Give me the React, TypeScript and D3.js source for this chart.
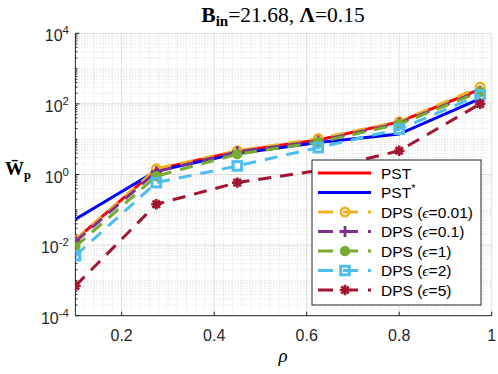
import React from "react";
import * as d3 from "d3";

const rho = [0.1, 0.275, 0.45, 0.625, 0.8, 0.975];
const pst = [0.014, 1.4, 4.6, 9.5, 31, 260];
const pstStar = [0.054, 1.26, 3.9, 8.1, 14, 140];
const dps001 = [0.014, 1.45, 4.7, 10.4, 31, 300];
const dps01 = [0.0125, 1.2, 4.4, 8.9, 28.5, 230];
const dps1 = [0.009, 0.9, 3.76, 8.2, 26.5, 220];
const dps2 = [0.005, 0.59, 1.75, 5.8, 19.2, 180];
const dps5 = [0.0007, 0.144, 0.59, 1.3, 4.7, 100];

const xTicks = [0.2, 0.4, 0.6, 0.8, 1];
const yTickExps = [-4, -2, 0, 2, 4];

type Series = {
  name: string;
  eps?: string;
  star?: boolean;
  values: number[];
  color: string;
  dashed: boolean;
  marker: string | null;
};

const series: Series[] = [
  { name: "PST", values: pst, color: "#ff0000", dashed: false, marker: null },
  { name: "PST", star: true, values: pstStar, color: "#0000ff", dashed: false, marker: null },
  { name: "DPS", eps: "0.01", values: dps001, color: "#EDB120", dashed: true, marker: "circle" },
  { name: "DPS", eps: "0.1", values: dps01, color: "#7E2F8E", dashed: true, marker: "plus" },
  { name: "DPS", eps: "1", values: dps1, color: "#77AC30", dashed: true, marker: "dot" },
  { name: "DPS", eps: "2", values: dps2, color: "#4DBEEE", dashed: true, marker: "square" },
  { name: "DPS", eps: "5", values: dps5, color: "#A2142F", dashed: true, marker: "asterisk" },
];

const W = 498;
const H = 374;
const left = 75.4;
const right = 491.7;
const top = 33.3;
const bottom = 315.7;

const x = d3.scaleLinear().domain([0.1, 1]).range([left, right]);
const y = d3.scaleLog().domain([1e-4, 1e4]).range([bottom, top]);

const sans = "'Liberation Sans', Arial, Helvetica, sans-serif";
const serif = "'Liberation Serif', 'Times New Roman', serif";
const axisColor = "#262626";
const DASH = "13 9";

function Marker({ type, cx, cy, color }: { type: string | null; cx: number; cy: number; color: string }) {
  if (!type) return null;
  if (type === "circle")
    return <circle cx={cx} cy={cy} r={4.2} fill="none" stroke={color} strokeWidth={2.6} />;
  if (type === "plus")
    return (
      <path
        d={`M${cx - 5.5},${cy}H${cx + 5.5}M${cx},${cy - 5.5}V${cy + 5.5}`}
        stroke={color}
        strokeWidth={2.8}
        fill="none"
      />
    );
  if (type === "dot") return <circle cx={cx} cy={cy} r={4.6} fill={color} stroke={color} strokeWidth={1.2} />;
  if (type === "square")
    return <rect x={cx - 4.3} y={cy - 4.3} width={8.6} height={8.6} fill="none" stroke={color} strokeWidth={3} />;
  if (type === "asterisk") {
    const r = 5.2;
    const d = r * 0.707;
    return (
      <path
        d={`M${cx - r},${cy}H${cx + r}M${cx},${cy - r}V${cy + r}M${cx - d},${cy - d}L${cx + d},${cy + d}M${cx - d},${cy + d}L${cx + d},${cy - d}`}
        stroke={color}
        strokeWidth={2.6}
        fill="none"
      />
    );
  }
  return null;
}

export default function App() {
  const line = d3
    .line<number>()
    .x((_, i) => x(rho[i]))
    .y((v) => y(v));

  const xMinor = d3.range(0.1, 1.0001, 0.02).filter((v) => !xTicks.some((t) => Math.abs(t - v) < 1e-6));
  const yMinor: number[] = [];
  for (let e = -4; e < 4; e++) {
    for (let k = 1; k <= 9; k++) {
      const v = k * Math.pow(10, e);
      if (k === 1 && e % 2 === 0) continue;
      yMinor.push(v);
    }
  }

  const legX = 312;
  const legY = 160;
  const legW = 169;
  const legH = 145;
  const rowH = 19.5;

  return (
    <svg width={W} height={H} style={{ position: "absolute", left: 0, top: 0, background: "#fff" }}>
      <defs>
        <clipPath id="plotclip">
          <rect x={left} y={top} width={right - left} height={bottom - top} />
        </clipPath>
      </defs>
      <rect x={0} y={0} width={W} height={H} fill="#fff" />

      <g stroke="#cfcfcf" strokeWidth={0.8} strokeDasharray="1 2">
        {xMinor.map((v, i) => (
          <line key={"xm" + i} x1={x(v)} x2={x(v)} y1={top} y2={bottom} />
        ))}
        {yMinor.map((v, i) => (
          <line key={"ym" + i} x1={left} x2={right} y1={y(v)} y2={y(v)} />
        ))}
      </g>
      <g stroke="#dedede" strokeWidth={1}>
        {xTicks.map((v) => (
          <line key={"xg" + v} x1={x(v)} x2={x(v)} y1={top} y2={bottom} />
        ))}
        {yTickExps.map((e) => (
          <line key={"yg" + e} x1={left} x2={right} y1={y(Math.pow(10, e))} y2={y(Math.pow(10, e))} />
        ))}
      </g>

      <g stroke={axisColor} strokeWidth={1}>
        <line x1={left} x2={left} y1={top} y2={bottom} />
        <line x1={left} x2={right} y1={bottom} y2={bottom} />
        {xTicks.map((v) => (
          <line key={"xt" + v} x1={x(v)} x2={x(v)} y1={bottom} y2={bottom - 4} />
        ))}
        {yTickExps.map((e) => (
          <line key={"yt" + e} x1={left} x2={left + 4} y1={y(Math.pow(10, e))} y2={y(Math.pow(10, e))} />
        ))}
        {yMinor.map((v, i) => (
          <line key={"ymt" + i} x1={left} x2={left + 2} y1={y(v)} y2={y(v)} />
        ))}
      </g>

      <g fontFamily={sans} fontSize={16} fill={axisColor}>
        {xTicks.map((v) => (
          <text key={"xl" + v} x={x(v)} y={341} textAnchor="middle">
            {String(v)}
          </text>
        ))}
        {yTickExps.map((e) => (
          <text key={"yl" + e} x={69} y={y(Math.pow(10, e)) + 8} textAnchor="end">
            10
            <tspan fontSize={11.5} dy={-7}>
              {String(e)}
            </tspan>
          </text>
        ))}
      </g>

      <text x={283} y={362} fontFamily={serif} fontStyle="italic" fontSize={19} textAnchor="middle" fill="#000">
        ρ
      </text>
      <text x={5} y={175} fontFamily={serif} fontWeight="bold" fontSize={19} fill="#000">
        W̄
        <tspan fontSize={12.5} dy={4}>
          p
        </tspan>
      </text>

      <text x={283} y={22} fontFamily={serif} fontSize={21.5} textAnchor="middle" fill="#000">
        <tspan fontWeight="bold">B</tspan>
        <tspan fontWeight="bold" fontSize={15} dy={4}>
          in
        </tspan>
        <tspan dy={-4}>=21.68, </tspan>
        <tspan fontWeight="bold">Λ</tspan>
        <tspan>=0.15</tspan>
      </text>

      <g clipPath="url(#plotclip)">
        {series.map((s, si) => (
          <g key={"s" + si}>
            <path
              d={line(s.values) || ""}
              fill="none"
              stroke={s.color}
              strokeWidth={3}
              strokeDasharray={s.dashed ? DASH : undefined}
            />
            {s.values.map((v, i) => (
              <Marker key={i} type={s.marker} cx={x(rho[i])} cy={y(v)} color={s.color} />
            ))}
          </g>
        ))}
      </g>

      <g>
        <rect x={legX} y={legY} width={legW} height={legH} fill="#fff" stroke={axisColor} strokeWidth={1} />
        {series.map((s, i) => {
          const cy = legY + 13 + i * rowH;
          return (
            <g key={"lg" + i}>
              <line
                x1={318}
                x2={371}
                y1={cy}
                y2={cy}
                stroke={s.color}
                strokeWidth={3}
                strokeDasharray={s.dashed ? "15 10" : undefined}
              />
              <Marker type={s.marker} cx={345} cy={cy} color={s.color} />
              <text x={381} y={cy + 5.5} fontFamily={sans} fontSize={15.5} fill="#000">
                {s.name}
                {s.star ? (
                  <tspan fontSize={11} dy={-6}>
                    *
                  </tspan>
                ) : null}
                {s.eps ? (
                  <>
                    {" ("}
                    <tspan fontFamily={serif} fontStyle="italic">
                      ϵ
                    </tspan>
                    {"=" + s.eps + ")"}
                  </>
                ) : null}
              </text>
            </g>
          );
        })}
      </g>
    </svg>
  );
}
